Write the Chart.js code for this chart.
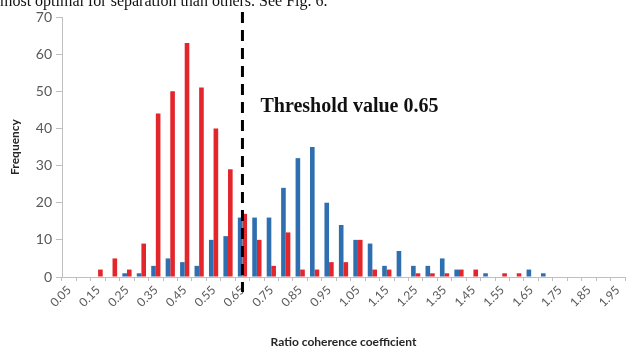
<!DOCTYPE html>
<html><head><meta charset="utf-8">
<script src="https://cdn.jsdelivr.net/npm/chart.js@4/dist/chart.umd.min.js"></script>
<style>html,body{margin:0;padding:0;background:#fff;overflow:hidden}#wrap{position:relative;width:631px;height:353px}</style>
</head><body><div id="wrap"><canvas id="c" width="631" height="353"></canvas></div>
<script>
const categories = ['0.05','0.10','0.15','0.20','0.25','0.30','0.35','0.40','0.45','0.50','0.55','0.60','0.65','0.70','0.75','0.80','0.85','0.90','0.95','1.00','1.05','1.10','1.15','1.20','1.25','1.30','1.35','1.40','1.45','1.50','1.55','1.60','1.65','1.70','1.75','1.80','1.85','1.90','1.95'];
const blueValues = [0,0,0,0,1,1,3,5,4,3,10,11,16,16,16,24,32,35,20,14,10,9,3,7,3,3,5,2,0,1,0,0,2,1,0,0,0,0,0];
const redValues  = [0,0,2,5,2,9,44,50,63,51,40,29,17,10,3,12,2,2,4,4,10,2,2,0,1,1,1,2,2,0,1,1,0,0,0,0,0,0,0];
const yMin = 0, yMax = 70, yStep = 10;
const thresholdCategory = '0.65';
const thresholdLabel = 'Threshold value 0.65';
const headerText = 'most optimal for separation than others. See Fig. 6.';
const xTitle = 'Ratio coherence coefficient';
const yTitle = 'Frequency';

const extras = {
  id: 'extras',
  afterDraw(chart) {
    const ctx = chart.ctx;
    const x = chart.scales.x.getPixelForValue(categories.indexOf(thresholdCategory));
    ctx.save();
    ctx.strokeStyle = '#000';
    ctx.lineWidth = 3;
    ctx.setLineDash([11, 7]);
    ctx.beginPath();
    ctx.moveTo(x, 12);
    ctx.lineTo(x, 292);
    ctx.stroke();
    ctx.setLineDash([]);
    ctx.fillStyle = '#111';
    ctx.font = 'bold 20px "Liberation Serif"';
    ctx.textBaseline = 'middle';
    ctx.textAlign = 'left';
    ctx.fillText(thresholdLabel, x + 18, 107);
    ctx.font = '16px "Liberation Serif"';
    ctx.textBaseline = 'alphabetic';
    ctx.fillText(headerText, 0, 6);
    ctx.restore();
  }
};

new Chart(document.getElementById('c'), {
  type: 'bar',
  data: {
    labels: categories,
    datasets: [
      { data: blueValues, backgroundColor: '#2f6fb0', borderWidth: 0 },
      { data: redValues, backgroundColor: '#e2262c', borderWidth: 0 }
    ]
  },
  options: {
    responsive: false,
    animation: false,
    layout: { padding: { left: 6, right: 6, top: 17, bottom: 0 } },
    plugins: { legend: { display: false }, tooltip: { enabled: false } },
    datasets: { bar: { barPercentage: 1.0, categoryPercentage: 0.64 } },
    scales: {
      x: {
        afterFit(s) { s.height = 76; },
        grid: { display: true, drawOnChartArea: false, drawTicks: true, tickLength: 4, color: '#bfbfbf', offset: true },
        border: { color: '#bfbfbf' },
        ticks: {
          autoSkip: false, minRotation: 45, maxRotation: 45, color: '#595959',
          font: { family: 'Lato', size: 12 }, padding: 2,
          callback: (v, i) => (i % 2 === 0 ? categories[i] : '')
        },
        title: { display: true, text: xTitle, color: '#262626', font: { family: 'Lato', size: 12, weight: 'bold' }, padding: { top: 4 } }
      },
      y: {
        min: yMin, max: yMax,
        afterFit(s) { s.width = 56; },
        grid: { display: true, drawOnChartArea: false, drawTicks: true, tickLength: 6, color: '#bfbfbf' },
        border: { color: '#bfbfbf' },
        ticks: { stepSize: yStep, color: '#595959', font: { family: 'Lato', size: 14 }, padding: 4 },
        title: { display: true, text: yTitle, color: '#262626', font: { family: 'Lato', size: 12, weight: 'bold' }, padding: { top: 2, bottom: 2 } }
      }
    }
  },
  plugins: [extras]
});
</script></body></html>
